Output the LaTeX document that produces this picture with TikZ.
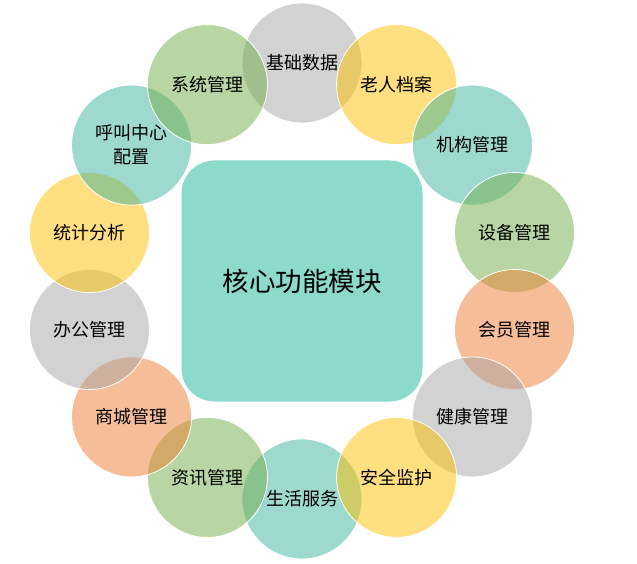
\documentclass[tikz,border=0pt]{standalone}
\usepackage{fontspec}
\setmainfont{Noto Sans CJK SC}
\definecolor{cgray}{HTML}{A5A5A5}
\definecolor{cgold}{HTML}{FFC000}
\definecolor{cgreen}{HTML}{70AD47}
\definecolor{corange}{HTML}{ED7D31}
\definecolor{cteal}{HTML}{3DB39F}
\definecolor{ccore}{HTML}{8BDACC}
\tikzset{
  bubble/.style={circle, minimum size=120pt, inner sep=0pt, draw=white, line width=0.8pt,
    fill opacity=0.5, text opacity=1, align=center, font=\fontsize{18pt}{24pt}\selectfont, text=black},
  corebox/.style={rounded corners=33pt, fill=ccore, minimum width=241pt, minimum height=241pt,
    inner sep=0pt, font=\fontsize{26.5pt}{30pt}\selectfont, text=black}
}
\newcommand{\ringpos}[1]{({302+218*cos(90-#1*25.7143)},{281-218*sin(90-#1*25.7143)})}
\begin{document}
\begin{tikzpicture}[x=1pt,y=-1pt]
\useasboundingbox (0,0) rectangle (637,564);
\node[corebox] (core) at (302,281) {核心功能模块};
\node[bubble, fill=cgray]   (n0)  at \ringpos{0} {基础数据};
\node[bubble, fill=cteal]   (n7)  at \ringpos{7} {生活服务};
\node[bubble, fill=cgold]   (n1)  at \ringpos{1} {老人档案};
\node[bubble, fill=cteal]   (n2)  at \ringpos{2} {机构管理};
\node[bubble, fill=cgreen]  (n3)  at \ringpos{3} {设备管理};
\node[bubble, fill=corange] (n4)  at \ringpos{4} {会员管理};
\node[bubble, fill=cgray]   (n5)  at \ringpos{5} {健康管理};
\node[bubble, fill=cgold]   (n6)  at \ringpos{6} {安全监护};
\node[bubble, fill=cgreen]  (n8)  at \ringpos{8} {资讯管理};
\node[bubble, fill=corange] (n9)  at \ringpos{9} {商城管理};
\node[bubble, fill=cgray]   (n10) at \ringpos{10} {办公管理};
\node[bubble, fill=cgold]   (n11) at \ringpos{11} {统计分析};
\node[bubble, fill=cteal]   (n12) at \ringpos{12} {呼叫中心\\配置};
\node[bubble, fill=cgreen]  (n13) at \ringpos{13} {系统管理};
\end{tikzpicture}
\end{document}
